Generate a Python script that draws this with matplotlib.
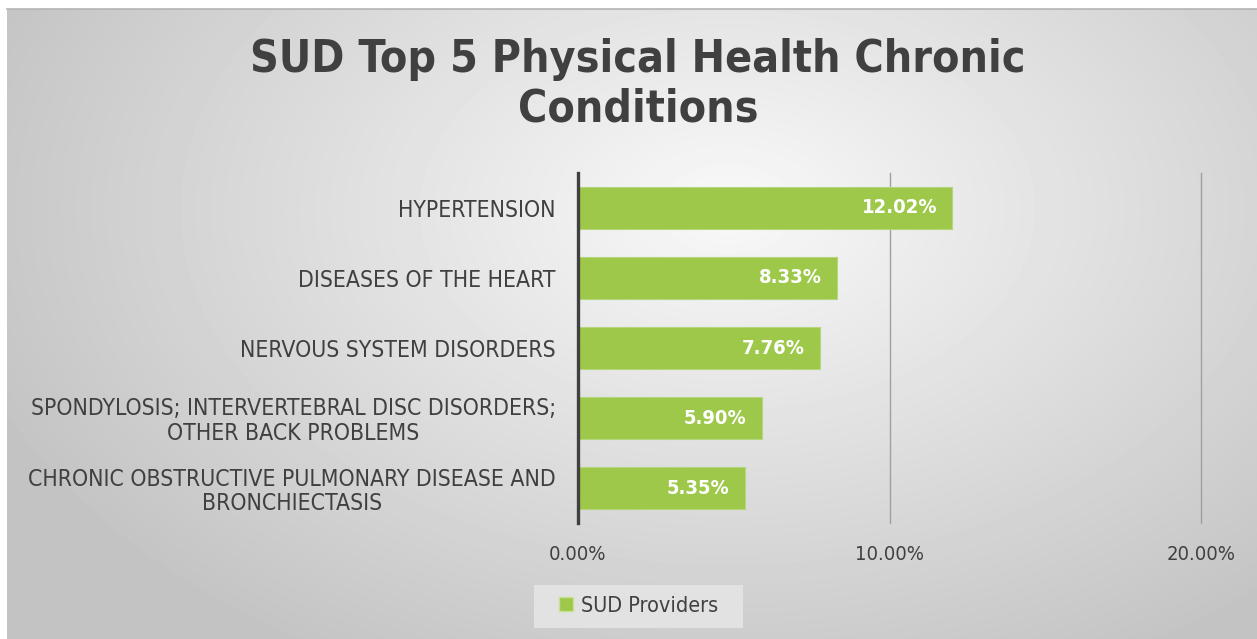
import numpy as np
import matplotlib.pyplot as plt
from matplotlib.lines import Line2D
from matplotlib.patches import Rectangle

# Data
categories = [
    "HYPERTENSION",
    "DISEASES OF THE HEART",
    "NERVOUS SYSTEM DISORDERS",
    "SPONDYLOSIS; INTERVERTEBRAL DISC DISORDERS;\nOTHER BACK PROBLEMS",
    "CHRONIC OBSTRUCTIVE PULMONARY DISEASE AND\nBRONCHIECTASIS",
]
values = [12.02, 8.33, 7.76, 5.90, 5.35]
x_ticks = [0, 10, 20]
x_tick_labels = ["0.00%", "10.00%", "20.00%"]
series_name = "SUD Providers"
title = "SUD Top 5 Physical Health Chronic\nConditions"

GREEN = "#9DC84A"
TEXT = "#404040"
FONT = "DejaVu Sans"
STRETCH = "condensed"

W, H = 1257, 639
fig = plt.figure(figsize=(W / 100, H / 100), dpi=100)
fig.patch.set_facecolor("white")

# Elliptical gradient behind the chart (light centre, grey edges)
bg = fig.add_axes([7 / W, 0, 1 - 7 / W, (H - 9) / H])
yy, xx = np.mgrid[0:630, 0:1250]
cx, cy = 720, 200
d = np.sqrt((xx - cx) ** 2 + ((yy - cy) / 0.65) ** 2)
shade = np.clip(0.975 - 0.17 * (d / 650.0), 0.765, 1)
bg.imshow(shade, cmap="gray", vmin=0, vmax=1, aspect="auto",
          extent=[0, 1, 0, 1], interpolation="bilinear")
bg.set_axis_off()
fig.add_artist(Line2D([7 / W, 1], [(H - 8.5) / H] * 2, color="#b4b4b4", lw=1.2))

ax = fig.add_axes([578 / W, 116 / H, (1201 - 578) / W, 350 / H])
ax.set_facecolor("none")
y = np.arange(len(categories))
bars = ax.barh(y, values, height=0.59, color=GREEN, edgecolor="#b5d67a",
               linewidth=0.8, zorder=3)
ax.set_ylim(len(categories) - 0.5, -0.5)
ax.set_xlim(0, 20)

for b, v in zip(bars, values):
    ax.annotate(f"{v:.2f}%", (b.get_width(), b.get_y() + b.get_height() / 2),
                xytext=(-11, 0), textcoords="offset points", ha="right",
                va="center", color="white", fontsize=14.5, fontweight="bold",
                family=FONT, fontstretch=STRETCH, zorder=4)

ax.set_yticks(y)
ax.set_yticklabels(categories, fontsize=16.5, color=TEXT, family=FONT,
                   fontstretch=STRETCH, ha="right", multialignment="center",
                   linespacing=1.1)
ax.tick_params(axis="y", length=0, pad=16)
ax.set_xticks(x_ticks)
ax.set_xticklabels(x_tick_labels, fontsize=14.5, color=TEXT, family=FONT,
                   fontstretch=STRETCH)
ax.tick_params(axis="x", length=0, pad=16)
ax.grid(axis="x", color="#a0a0a0", lw=1.0, zorder=1)
for gl in ax.get_xgridlines():
    gl.set_clip_on(False)
for s in ["top", "right", "bottom"]:
    ax.spines[s].set_visible(False)
ax.spines["left"].set_color(TEXT)
ax.spines["left"].set_linewidth(2.4)
ax.spines["left"].set_zorder(5)

fig.text(638 / W, 1 - 84 / H, title, ha="center", va="center",
         fontsize=32, fontweight="bold", color=TEXT, family=FONT,
         fontstretch=STRETCH, linespacing=1.2)

# legend box (wider padding than matplotlib's frame gives)
fig.add_artist(Rectangle((534 / W, 1 - 628 / H), (743 - 534) / W, 43 / H,
                         transform=fig.transFigure, facecolor="#e2e2e2",
                         edgecolor="none", zorder=1))
handle = Line2D([], [], marker="s", color="none", markerfacecolor=GREEN,
                markeredgecolor="#c8e08f", markersize=10)
leg = fig.legend([handle], [series_name], loc="center",
                 bbox_to_anchor=(638 / W, 1 - 606 / H), frameon=False,
                 prop={"family": FONT, "size": 15.5, "stretch": STRETCH},
                 handlelength=0.8, handletextpad=0.3, borderpad=0.55,
                 borderaxespad=0)
leg.set_zorder(2)
for t in leg.get_texts():
    t.set_color(TEXT)

fig.savefig("out.png", dpi=100)
